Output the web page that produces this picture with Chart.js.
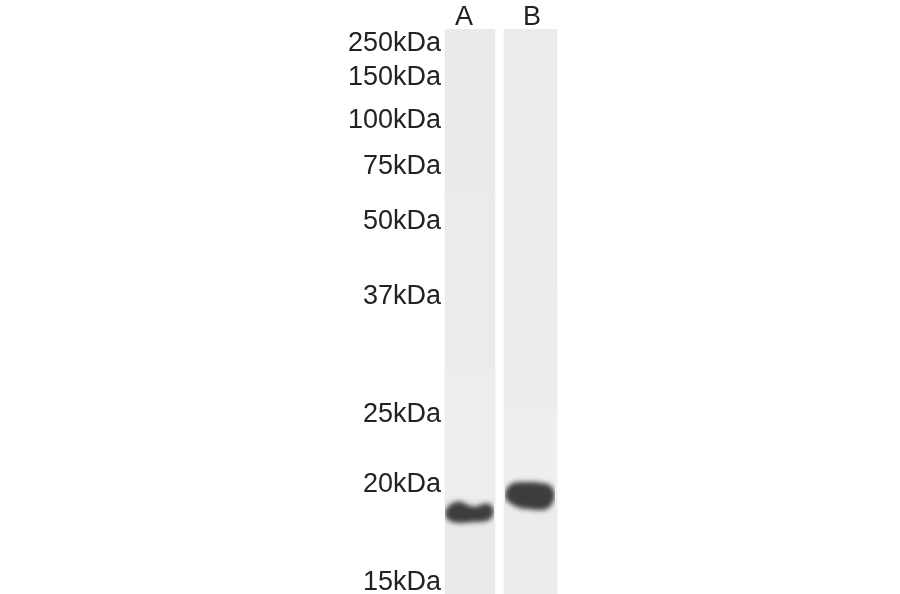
<!DOCTYPE html>
<html>
<head>
<meta charset="utf-8">
<title>Western blot</title>
<script src="https://cdn.jsdelivr.net/npm/chart.js@4/dist/chart.umd.min.js"></script>
<style>
  html, body { margin: 0; background: #fff; }
  #wrap { width: 900px; height: 594px; }
  canvas { filter: blur(0.5px); }
</style>
</head>
<body>
<div id="wrap"><canvas id="blot"></canvas></div>
<script>
// marker ladder, y is migration distance from the top of the gel
var markerLabels = ["250kDa", "150kDa", "100kDa", "75kDa", "50kDa", "37kDa", "25kDa", "20kDa", "15kDa"];
var markerMigration = [15, 49, 92, 138, 193, 268, 386, 456, 554];

var laneNames = ["A", "B"];
var laneNamePositions = [22, 90];
var laneCentres = [28, 88.5];

// background density of each lane, from start to end of each stretch
var laneAStarts = [0, 165, 340, 470];
var laneAEnds = [166, 341, 471, 565];
var laneAGreys = [234, 235, 237, 234];
var laneBStarts = [0, 260, 380, 470];
var laneBEnds = [261, 381, 471, 565];
var laneBGreys = [235, 236, 238, 236];

// band outlines across the lane
var bandAX = [3, 7, 11, 16, 21, 26, 31, 36, 41, 45, 49, 52];
var bandATop = [482, 476.5, 474, 472.5, 473.5, 476, 477.5, 477, 475, 474.5, 476, 481];
var bandABottom = [487, 491.5, 493, 494, 494, 493.5, 493, 493, 492.5, 492, 489.5, 484];
var bandBX = [63, 66, 71, 78, 85, 93, 99, 105, 110, 113];
var bandBTop = [463, 458, 454, 453, 453, 453, 454, 455, 458, 465];
var bandBBottom = [469, 472.5, 476, 479, 480, 481, 481, 480, 475, 468];

function grey(v) { return "rgb(" + v + "," + v + "," + v + ")"; }

function laneDataset(centre, starts, ends, greys, width) {
  return {
    type: "bar",
    isLane: true,
    order: 2,
    barThickness: width,
    backgroundColor: greys.map(grey),
    borderWidth: 0,
    data: starts.map(function (s, i) { return { x: centre, y: [s, ends[i]] }; })
  };
}

function edge(xs, ys, fill) {
  return {
    type: "line",
    order: 1,
    fill: fill,
    backgroundColor: "#3d3d3d",
    borderWidth: 0,
    pointRadius: 0,
    tension: 0.35,
    data: xs.map(function (x, i) { return { x: x, y: ys[i] }; })
  };
}

// bands are soft on the film. lanes draw last to first, so turn the blur on after lane A
var softBands = {
  id: "softBands",
  afterDatasetDraw: function (chart, args) {
    if (args.index === 0) chart.ctx.filter = "blur(2.5px)";
  },
  afterDatasetsDraw: function (chart) {
    chart.ctx.filter = "none";
  }
};

new Chart("blot", {
  type: "bar",
  data: {
    datasets: [
      laneDataset(laneCentres[0], laneAStarts, laneAEnds, laneAGreys, 50),
      laneDataset(laneCentres[1], laneBStarts, laneBEnds, laneBGreys, 53),
      edge(bandAX, bandATop, false),
      edge(bandAX, bandABottom, "-1"),
      edge(bandBX, bandBTop, false),
      edge(bandBX, bandBBottom, "-1")
    ]
  },
  plugins: [softBands],
  options: {
    responsive: true,
    maintainAspectRatio: false,
    animation: false,
    layout: { padding: { right: 340 } },
    datasets: { bar: { grouped: false } },
    plugins: { legend: { display: false }, tooltip: { enabled: false } },
    scales: {
      x: {
        type: "linear",
        position: "top",
        offset: false,
        min: 0,
        max: 118,
        grid: { display: false, drawTicks: false },
        border: { display: false },
        afterFit: function (scale) {
          scale.height = 29;
          scale.paddingLeft = 0;
          scale.paddingRight = 0;
        },
        afterBuildTicks: function (scale) {
          scale.ticks = laneNamePositions.map(function (v) { return { value: v }; });
        },
        ticks: {
          autoSkip: false,
          maxRotation: 0,
          padding: -5,
          color: "#222",
          font: { family: "Liberation Sans", size: 27 },
          callback: function (value) { return laneNames[laneNamePositions.indexOf(value)]; }
        }
      },
      y: {
        type: "linear",
        reverse: true,
        min: 0,
        max: 565,
        grid: { display: false, drawTicks: false },
        border: { display: false },
        afterFit: function (scale) {
          scale.width = 442;
          scale.paddingTop = 0;
          scale.paddingBottom = 0;
        },
        afterBuildTicks: function (scale) {
          scale.ticks = markerMigration.map(function (v) { return { value: v }; });
        },
        ticks: {
          autoSkip: false,
          padding: 1,
          color: "#222",
          font: { family: "Liberation Sans", size: 27 },
          callback: function (value) { return markerLabels[markerMigration.indexOf(value)]; }
        }
      }
    }
  }
});
</script>
</body>
</html>
